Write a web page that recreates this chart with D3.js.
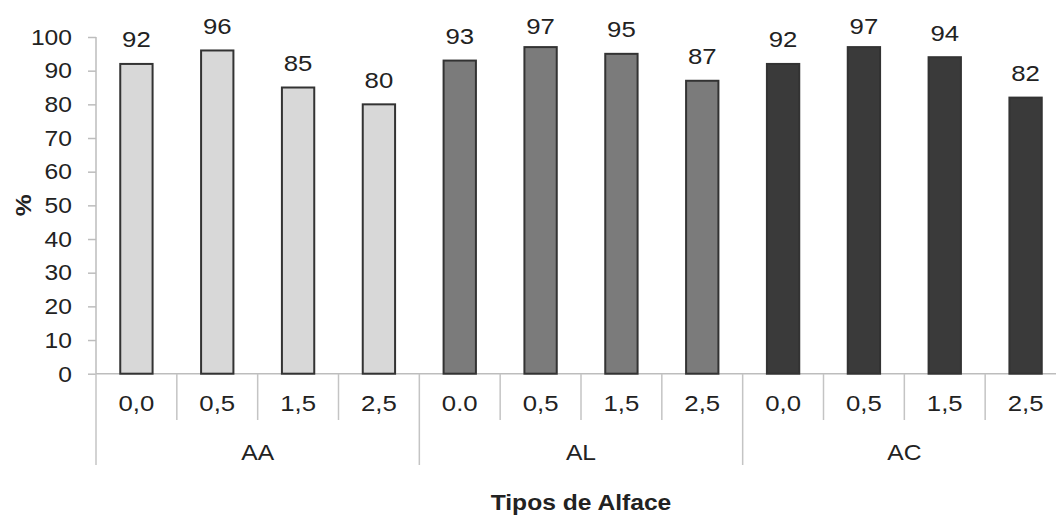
<!DOCTYPE html>
<html><head><meta charset="utf-8">
<script src="https://cdn.jsdelivr.net/npm/d3@7"></script>
<style>body{margin:0;background:#fff;} svg{display:block;} text{font-family:"Liberation Sans",Arial,Helvetica,sans-serif;fill:#222;}</style>
</head><body>
<svg id="chart" width="1056" height="515"></svg>
<script>
const groups = ["AA", "AL", "AC"];
const doses = [["0,0","0,5","1,5","2,5"],["0.0","0,5","1,5","2,5"],["0,0","0,5","1,5","2,5"]];
const valuesAA = [92, 96, 85, 80];
const valuesAL = [93, 97, 95, 87];
const valuesAC = [92, 97, 94, 82];
const yTicks = [0,10,20,30,40,50,60,70,80,90,100];
const groupColors = ["#d8d8d8", "#7b7b7b", "#3a3a3a"];
const yLabel = "%";
const xTitle = "Tipos de Alface";

(function () {
const allValues = [valuesAA, valuesAL, valuesAC];
const data = [];
groups.forEach((g, gi) => doses[gi].forEach((d, di) => data.push({key: g + "_" + di, group: g, gi, dose: d, value: allValues[gi][di]})));

const SX = 1.12;
const svg = d3.select("#chart");
const mLeft = 96, mRight = 1066, mTop = 37, mBottom = 373.7;
const x = d3.scaleBand().domain(data.map(d => d.key)).range([mLeft, mRight]).paddingInner(0.6).paddingOuter(0.3);
const y = d3.scaleLinear().domain([0, 100]).range([mBottom, mTop]);
const step = x.step();

function txt(sel, px, py, s, opts) {
  opts = opts || {};
  const g = sel.append("g").attr("transform", `translate(${px},${py})` + (opts.rotate ? ` rotate(${opts.rotate})` : "") + ` scale(${SX},1)`);
  return g.append("text").attr("text-anchor", opts.anchor || "middle").attr("font-size", opts.size || 22)
    .attr("font-weight", opts.weight || "normal").text(s);
}

// y axis
const yAxis = d3.axisLeft(y).tickValues(yTicks).tickSize(8).tickFormat("");
const ya = svg.append("g").attr("transform", `translate(${mLeft},0)`).call(yAxis);
ya.selectAll("path").remove();
ya.selectAll("line").attr("stroke", "#bdbdbd").attr("stroke-width", 1.5);
svg.append("line").attr("x1", mLeft).attr("x2", mLeft).attr("y1", y(100)).attr("y2", y(0)).attr("stroke", "#bdbdbd").attr("stroke-width", 1.5);
yTicks.forEach(t => txt(svg, 72, y(t) + 7.8, String(t), {anchor: "end", size: 22}));

// x axis baseline
svg.append("line").attr("x1", mLeft).attr("x2", 1056).attr("y1", y(0)).attr("y2", y(0)).attr("stroke", "#bdbdbd").attr("stroke-width", 1.5);

// separators
d3.range(0, data.length + 1).forEach(k => {
  const xx = mLeft + k * step;
  svg.append("line").attr("x1", xx).attr("x2", xx).attr("y1", y(0)).attr("y2", k % 4 === 0 ? 465 : 420)
    .attr("stroke", "#c4c4c4").attr("stroke-width", 1.5);
});

// bars
svg.append("g").selectAll("rect").data(data).join("rect")
  .attr("x", d => x(d.key)).attr("width", x.bandwidth())
  .attr("y", d => y(d.value)).attr("height", d => y(0) - y(d.value))
  .attr("fill", d => groupColors[d.gi]).attr("stroke", "#333").attr("stroke-width", 2);

// value labels
data.forEach(d => txt(svg, x(d.key) + x.bandwidth() / 2, Math.max(y(d.value) - 16.5, 33.5), String(d.value), {size: 23}));

// dose labels
data.forEach(d => txt(svg, x(d.key) + x.bandwidth() / 2, 411, d.dose, {size: 23}));

// group labels
groups.forEach((g, gi) => txt(svg, mLeft + (gi * 4 + 2) * step, 460, g, {size: 22}));

// titles
txt(svg, mLeft + 6 * step, 510, xTitle, {size: 22, weight: "bold"});
txt(svg, 31, (y(0) + y(100)) / 2, yLabel, {size: 22, weight: "bold", rotate: -90});
})();
</script>
</body></html>
